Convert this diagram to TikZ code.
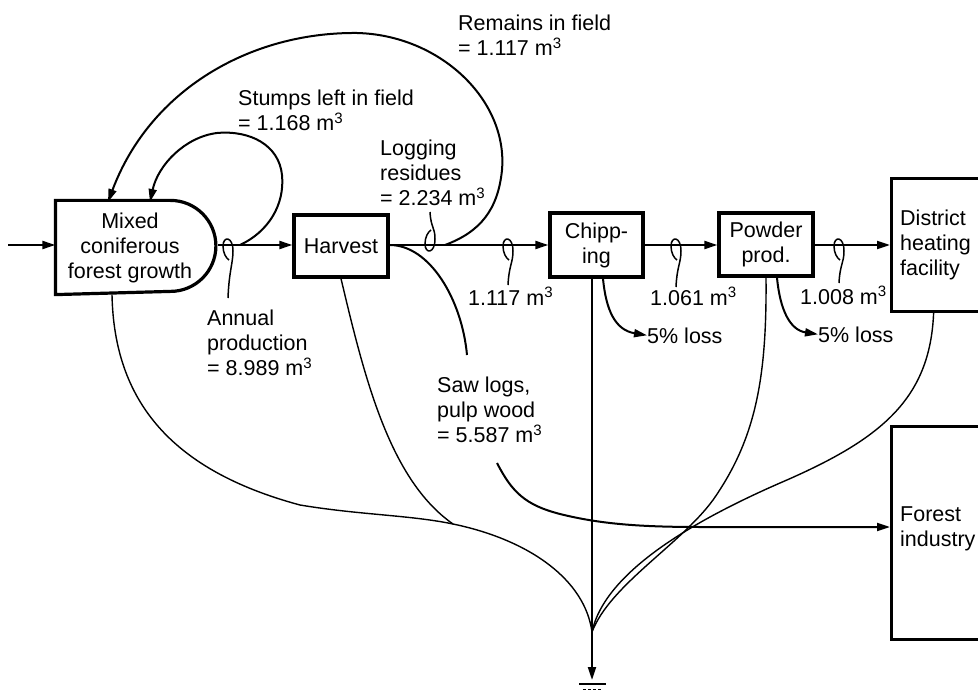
\documentclass[tikz,border=0pt]{standalone}
\usepackage{fontspec}
\setmainfont{Liberation Sans}
\usetikzlibrary{arrows.meta}
\newcommand\cubm{m\textsuperscript{3}}
\begin{document}
\begin{tikzpicture}[x=1pt,y=-1pt,
  font=\fontsize{21.5}{25}\selectfont,
  box/.style={draw, line width=3.2pt, inner sep=0pt, align=center},
  lbl/.style={inner sep=0pt, align=left, anchor=north west},
  flow/.style={line width=2pt},
  tip/.style={-{Triangle[length=13pt,width=8pt]}},
  sinkline/.style={line width=1.4pt},
  tagline/.style={line width=1.5pt},
  pics/tagdn/.style={code={\draw[tagline] (0,#1) .. controls (1,{#1*0.5}) and (5,18) .. (5,6) .. controls (5,-9) and (-5,-9) .. (-5,1) .. controls (-5,8) and (-2,13) .. (1,15);}}
]
\useasboundingbox (0,0) rectangle (978,690);
\clip (0,0) rectangle (978,690);

% boxes
\node[box, draw=none, minimum width=146pt, minimum height=91pt] (mixed) at (130,247.5) {Mixed\\coniferous\\forest growth};
\draw[line width=3.2pt] (mixed.north west) -- ++(115,0) arc[start angle=-90, end angle=90, radius=45.5] -- (mixed.south west) -- cycle;
\coordinate (mixedE) at (217.5,245);
\node[box, minimum width=94pt, minimum height=62pt] (harvest) at (341,246) {Harvest};
\node[box, minimum width=93pt, minimum height=64pt] (chip) at (596.5,245) {Chipp-\\ing};
\node[box, minimum width=94pt, minimum height=63pt] (powder) at (766,244.5) {Powder\\prod.};
\node[box, minimum width=100pt, minimum height=133pt, anchor=north west] (district) at (890,177) {};
\node[box, minimum width=100pt, minimum height=213pt, anchor=north west] (forest) at (890,425) {};

% labels
\node[lbl] (districtlbl) at (900,210) {District\\heating\\facility};
\node[lbl] (forestlbl) at (900,507) {Forest\\industry};
\node[lbl] (remlbl) at (458,15) {Remains in field\\= 1.117 \cubm};
\node[lbl] (stumplbl) at (238,90) {Stumps left in field\\= 1.168 \cubm};
\node[lbl] (loglbl) at (380,140) {Logging\\residues\\= 2.234 \cubm};
\node[lbl] (annlbl) at (207,310) {Annual\\production\\= 8.989 \cubm};
\node[lbl] (sawlbl) at (437,377) {Saw logs,\\pulp wood\\= 5.587 \cubm};
\node[lbl, anchor=base west] (q1) at (468,305) {1.117 \cubm};
\node[lbl, anchor=base west] (q2) at (650,305) {1.061 \cubm};
\node[lbl, anchor=base west] (q3) at (800,304) {1.008 \cubm};
\node[lbl, anchor=base west] (loss1) at (647,343) {5\% loss};
\node[lbl, anchor=base west] (loss2) at (818,342) {5\% loss};

% main flow
\coordinate (inS) at (8,245);
\draw[flow,tip] (inS) -- (inS -| mixed.west);
\draw[flow,tip] (mixedE) -- (mixedE -| harvest.west);
\draw[flow,tip] (harvest.east |- mixedE) -- (chip.west |- mixedE);
\draw[flow,tip] (chip.east |- mixedE) -- (powder.west |- mixedE);
\draw[flow,tip] (powder.east |- mixedE) -- (district.west |- mixedE);

% split tags
\pic at (228,245) {tagdn=53};
\pic at (508,245) {tagdn=40};
\pic at (676,245) {tagdn=42};
\pic at (839,245) {tagdn=38};
\pic[yscale=-1] at (430,245) {tagdn=33};

% stumps loop
\coordinate (stS) at (240,245);
\coordinate (stE) at (150,202);
\draw[flow,tip] (stS) .. controls (268,232) and (285,205) .. (282,175) .. controls (279,145) and (250,130) .. (217,133) .. controls (185,137) and (158,165) .. (stE);

% remains loop
\coordinate (rmS) at (445,245);
\coordinate (rmE) at (108,202);
\draw[flow,tip] (rmS) .. controls (480,232) and (498,210) .. (502,170) .. controls (508,100) and (440,35) .. (357,33) .. controls (250,32) and (150,90) .. (rmE);

% saw logs
\draw[flow] (harvest.east |- mixedE) .. controls (430,245) and (462,300) .. (467,355);
\coordinate (fa) at (700,527);
\coordinate (fin) at (forest.west |- fa);
\draw[flow,tip] (497,463) .. controls (512,492) and (525,505) .. (560,514) .. controls (600,524) and (640,527) .. (fa) -- (fin);

% losses
\draw[flow,tip] ([xshift=6.5pt]chip.south) .. controls (606,310) and (615,330) .. (loss1.west);
\draw[flow,tip] ([xshift=11pt]powder.south) .. controls (780,310) and (790,330) .. (loss2.west);

% sink
\coordinate (sink) at (592,632);
\coordinate (gnd) at (592,680);
\draw[flow,tip] (chip.south -| sink) -- (gnd);
\draw[sinkline] ([xshift=-18pt]mixed.south) .. controls (114,400) and (170,470) .. (300,505) .. controls (360,515) and (410,515) .. (453,524) .. controls (530,540) and (585,580) .. (sink);
\draw[sinkline] (harvest.south) .. controls (365,380) and (390,480) .. (453,524);
\draw[sinkline] (powder.south) .. controls (767,380) and (755,440) .. (713,500) .. controls (680,545) and (610,585) .. (sink);
\draw[sinkline] ([xshift=-8pt]district.south) .. controls (930,400) and (880,440) .. (780,483) .. controls (700,518) and (605,570) .. (sink);
\draw[line width=1.5pt] (579,684) -- (606,684);
\draw[line width=1pt, dash pattern=on 3pt off 2pt] (583,689) -- (602,689);
\end{tikzpicture}
\end{document}
